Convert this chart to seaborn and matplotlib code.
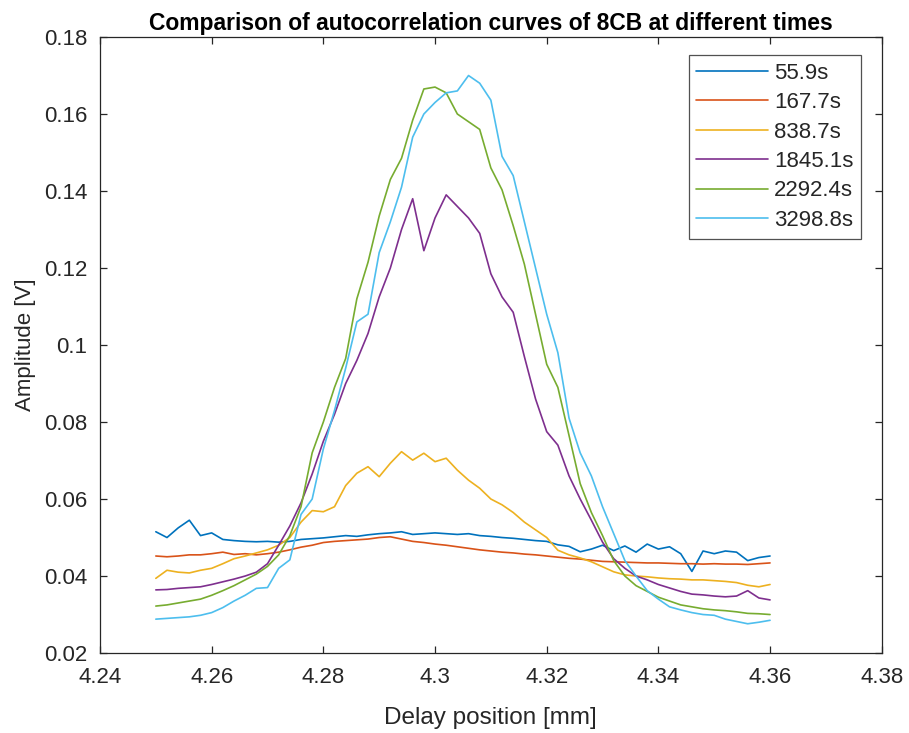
import numpy as np
import pandas as pd
import matplotlib
matplotlib.use("Agg")
import matplotlib.pyplot as plt
import seaborn as sns
from matplotlib.ticker import FuncFormatter

delay_mm = [round(4.25 + 0.002 * i, 3) for i in range(56)]

labels = ["55.9s", "167.7s", "838.7s", "1845.1s", "2292.4s", "3298.8s"]
colors = ["#0072BD", "#D95319", "#EDB120", "#7E2F8E", "#77AC30", "#4DBEEE"]

amp_55_9 = [0.0515, 0.0500, 0.0525, 0.0545, 0.0505, 0.0512, 0.0495, 0.0492, 0.0490, 0.0489,
            0.0490, 0.0488, 0.0490, 0.0495, 0.0497, 0.0499, 0.0502, 0.0505, 0.0503, 0.0507,
            0.0510, 0.0512, 0.0515, 0.0508, 0.0510, 0.0512, 0.0510, 0.0508, 0.0510, 0.0505,
            0.0503, 0.0500, 0.0498, 0.0495, 0.0492, 0.0490, 0.0481, 0.0477, 0.0463, 0.0470,
            0.0480, 0.0466, 0.0478, 0.0462, 0.0483, 0.0470, 0.0476, 0.0458, 0.0412, 0.0465,
            0.0458, 0.0465, 0.0462, 0.0440, 0.0448, 0.0452]
amp_167_7 = [0.0452, 0.0450, 0.0452, 0.0455, 0.0455, 0.0458, 0.0462, 0.0456, 0.0458, 0.0455,
             0.0458, 0.0462, 0.0468, 0.0475, 0.0480, 0.0487, 0.0490, 0.0492, 0.0494, 0.0496,
             0.0500, 0.0502, 0.0496, 0.0490, 0.0487, 0.0483, 0.0480, 0.0476, 0.0472, 0.0468,
             0.0465, 0.0462, 0.0460, 0.0457, 0.0455, 0.0452, 0.0449, 0.0446, 0.0444, 0.0441,
             0.0438, 0.0437, 0.0436, 0.0435, 0.0434, 0.0434, 0.0433, 0.0432, 0.0432, 0.0431,
             0.0432, 0.0431, 0.0431, 0.0430, 0.0432, 0.0434]
amp_838_7 = [0.0394, 0.0415, 0.0410, 0.0408, 0.0415, 0.0420, 0.0432, 0.0445, 0.0452, 0.0460,
             0.0468, 0.0480, 0.0500, 0.0540, 0.0570, 0.0567, 0.0580, 0.0635, 0.0667, 0.0684,
             0.0658, 0.0693, 0.0723, 0.0701, 0.0719, 0.0697, 0.0706, 0.0675, 0.0649, 0.0628,
             0.0600, 0.0585, 0.0565, 0.0540, 0.0520, 0.0500, 0.0467, 0.0455, 0.0447, 0.0437,
             0.0424, 0.0411, 0.0403, 0.0400, 0.0398, 0.0395, 0.0393, 0.0392, 0.0390, 0.0390,
             0.0388, 0.0386, 0.0383, 0.0376, 0.0372, 0.0378]
amp_1845_1 = [0.0364, 0.0365, 0.0368, 0.0370, 0.0372, 0.0378, 0.0385, 0.0392, 0.0400, 0.0410,
              0.0432, 0.0480, 0.0530, 0.0590, 0.0665, 0.0750, 0.0820, 0.0900, 0.0960, 0.1030,
              0.1125, 0.1200, 0.1300, 0.1380, 0.1245, 0.1330, 0.1390, 0.1360, 0.1330, 0.1290,
              0.1185, 0.1125, 0.1085, 0.0970, 0.0860, 0.0775, 0.0740, 0.0660, 0.0600, 0.0545,
              0.0488, 0.0445, 0.0420, 0.0400, 0.0390, 0.0378, 0.0369, 0.0360, 0.0353, 0.0351,
              0.0348, 0.0346, 0.0348, 0.0362, 0.0343, 0.0338]
amp_2292_4 = [0.0322, 0.0325, 0.0330, 0.0335, 0.0340, 0.0350, 0.0362, 0.0375, 0.0390, 0.0405,
              0.0425, 0.0455, 0.0505, 0.0580, 0.0720, 0.0800, 0.0890, 0.0965, 0.1120, 0.1215,
              0.1335, 0.1430, 0.1485, 0.1584, 0.1665, 0.1670, 0.1655, 0.1600, 0.1580, 0.1560,
              0.1460, 0.1403, 0.1310, 0.1210, 0.1080, 0.0950, 0.0890, 0.0765, 0.0640, 0.0565,
              0.0505, 0.0440, 0.0400, 0.0375, 0.0360, 0.0345, 0.0335, 0.0325, 0.0320, 0.0315,
              0.0312, 0.0310, 0.0307, 0.0303, 0.0302, 0.0300]
amp_3298_8 = [0.0288, 0.0290, 0.0292, 0.0294, 0.0298, 0.0305, 0.0318, 0.0335, 0.0350, 0.0368,
              0.0370, 0.0420, 0.0442, 0.0560, 0.0600, 0.0730, 0.0830, 0.0940, 0.1060, 0.1080,
              0.1240, 0.1320, 0.1410, 0.1540, 0.1600, 0.1630, 0.1655, 0.1660, 0.1700, 0.1680,
              0.1636, 0.1490, 0.1440, 0.1320, 0.1200, 0.1080, 0.0980, 0.0810, 0.0720, 0.0660,
              0.0580, 0.0510, 0.0440, 0.0400, 0.0362, 0.0340, 0.0320, 0.0312, 0.0305, 0.0300,
              0.0298, 0.0288, 0.0282, 0.0276, 0.0280, 0.0285]

series = [amp_55_9, amp_167_7, amp_838_7, amp_1845_1, amp_2292_4, amp_3298_8]

frames = []
for lab, vals in zip(labels, series):
    frames.append(pd.DataFrame({"Delay": delay_mm, "Amplitude": vals, "Time": lab}))
df = pd.concat(frames, ignore_index=True)

sns.set_theme(style="white")
plt.rcParams["font.family"] = ["Liberation Sans", "DejaVu Sans"]

fig = plt.figure(figsize=(9.09, 7.33), dpi=100)
ax = fig.add_axes([0.110, 0.1091, 0.860, 0.8404])

sns.lineplot(data=df, x="Delay", y="Amplitude", hue="Time", hue_order=labels,
             palette=colors, linewidth=1.2, ax=ax, legend=False, sort=False)

ax.set_xlim(4.24, 4.38)
ax.set_ylim(0.02, 0.18)
ax.set_xticks(np.round(np.arange(4.24, 4.381, 0.02), 2))
ax.set_yticks(np.round(np.arange(0.02, 0.181, 0.02), 2))
fmt = FuncFormatter(lambda v, p: "%g" % round(v, 3))
ax.xaxis.set_major_formatter(fmt)
ax.yaxis.set_major_formatter(fmt)

axis_col = "#262626"
for s in ax.spines.values():
    s.set_visible(True)
    s.set_color(axis_col)
    s.set_linewidth(0.9)
ax.tick_params(direction="in", length=5, width=0.9, colors=axis_col, labelsize=16,
               top=True, right=True, bottom=True, left=True)
ax.tick_params(axis="x", pad=10)
ax.tick_params(axis="y", pad=9)

ax.set_xlabel("Delay position [mm]", fontsize=17.5, color=axis_col, labelpad=14)
ax.set_ylabel("Amplitude [V]", fontsize=16, color=axis_col, labelpad=6)
ax.set_title("Comparison of autocorrelation curves of 8CB at different times",
             fontsize=16.5, fontweight="bold", color="black", pad=5)

handles = [plt.Line2D([0], [0], color=c, lw=1.2) for c in colors]
leg = ax.legend(handles, labels, loc="upper right", bbox_to_anchor=(0.974, 0.971),
                fontsize=16, frameon=True, fancybox=False, handlelength=3.2,
                handletextpad=0.3, labelspacing=0.38, borderpad=0.35, borderaxespad=0)
leg.get_frame().set_edgecolor(axis_col)
leg.get_frame().set_linewidth(0.9)
for t in leg.get_texts():
    t.set_color(axis_col)

fig.savefig("out.png", dpi=100, facecolor="white")
